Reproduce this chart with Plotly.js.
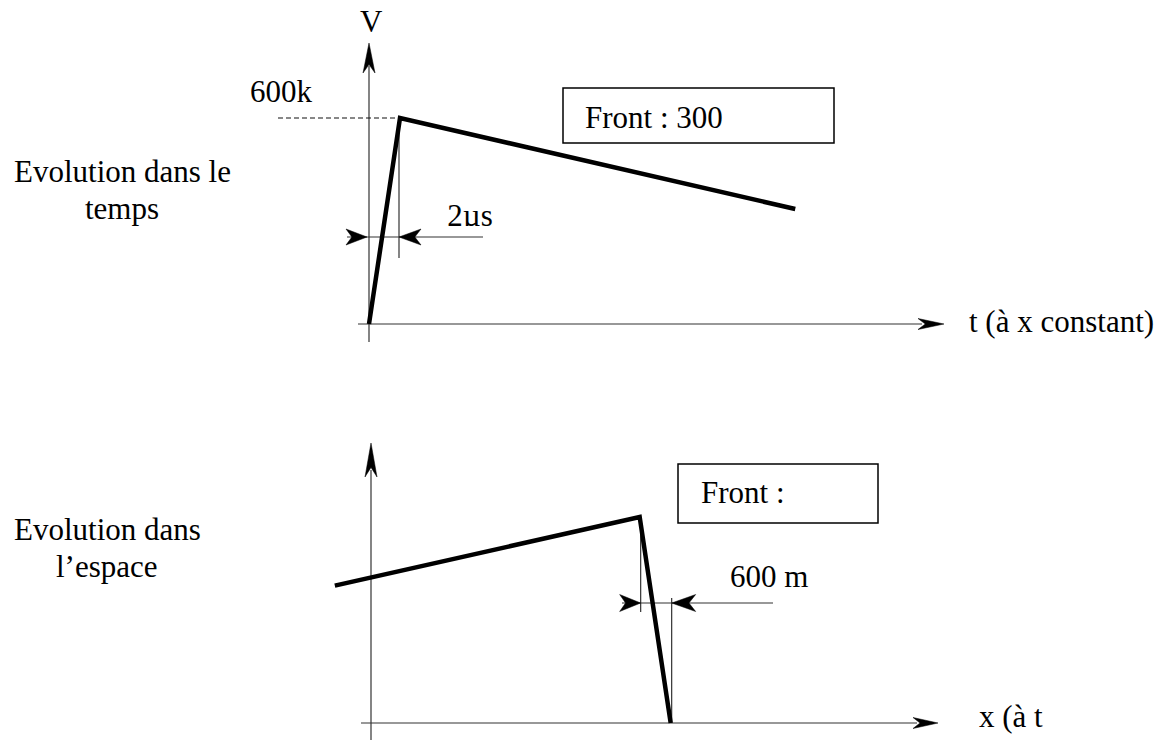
<!DOCTYPE html>
<html>
<head>
<meta charset="utf-8">
<script src="https://cdn.plot.ly/plotly-3.0.1.min.js"></script>
<style>html,body{margin:0;padding:0;background:#fff;}#chart{width:1162px;height:740px;}</style>
</head>
<body>
<div id="chart"></div>
<script>
// ---- data ----
const timeUs = [0, 2, 27.5];          // top panel: time (µs)
const voltTime = [0, 600, 335];       // top panel: voltage (kV)
const spaceM = [-700, 5200, 5800];    // bottom panel: position (m)
const voltSpace = [400, 600, 0];      // bottom panel: voltage (kV)
const peakKV = 600;
const riseUs = 2;
const frontM = 600;
const rowLabelsTop = ["Evolution dans le", "temps"];
const rowLabelsBottom = ["Evolution dans", "l\u2019espace"];
const axisLabels = {v: "V", t: "t (\u00e0 x constant)", x: "x (\u00e0 t"};
const boxLabels = ["Front : 300", "Front :"];
const dimLabels = {peak: "600k", rise: "2\u00b5s", front: "600 m"};

// ---- layout geometry (pixels) ----
const W = 1162, H = 740;
const O1 = {x: 369, y: 324}, O2 = {x: 371, y: 723};
const tPx = 15.5, vPx = 206 / 600, mPx = 31 / 600;
const P1 = (t, v) => [O1.x + t * tPx, O1.y - v * vPx];
const P2 = (m, v) => [O2.x + m * mPx, O2.y - v * vPx];

const FONT = "'Liberation Serif', 'Times New Roman', serif";
const FS = 31;
const AX = '#333333';

const shapes = [];
function line(x0, y0, x1, y1, opts = {}) {
  shapes.push({type: 'line', xref: 'x3', yref: 'y3', x0, y0, x1, y1,
    line: {color: opts.color || AX, width: opts.width || 1.2, dash: opts.dash || 'solid'},
    layer: opts.layer || 'below'});
}
function arrow(tx, ty, dx, dy, len, half) {
  const nx = -dy, ny = dx;
  const bx = tx - dx * len, by = ty - dy * len;
  const mx = tx - dx * len * 0.72, my = ty - dy * len * 0.72;
  const p = `M${tx},${ty} L${bx + nx * half},${by + ny * half} L${mx},${my} L${bx - nx * half},${by - ny * half} Z`;
  shapes.push({type: 'path', xref: 'x3', yref: 'y3', path: p,
    fillcolor: '#000', line: {color: '#000', width: 0.5}, layer: 'below'});
}
function rect(x0, y0, x1, y1, opts = {}) {
  shapes.push({type: 'rect', xref: 'x3', yref: 'y3', x0, y0, x1, y1,
    line: {color: opts.line || '#000', width: opts.width === undefined ? 1.5 : opts.width},
    fillcolor: opts.fill || 'rgba(0,0,0,0)', layer: opts.layer || 'below'});
}

// ---- top panel decorations ----
line(O1.x, O1.y + 18, O1.x, 66);
arrow(O1.x, 43, 0, -1, 30, 6);
line(O1.x - 11, O1.y, 922, O1.y);
arrow(944, O1.y, 1, 0, 26, 5.5);
const pk1 = P1(riseUs, peakKV);
line(278, pk1[1], pk1[0], pk1[1], {dash: '5px,3px', width: 1.1, color: '#111'});
line(pk1[0] - 1, pk1[1] + 4, pk1[0] - 1, 258);
const dimY1 = 237;
line(347, dimY1, 483, dimY1);
arrow(O1.x - 2, dimY1, 1, 0, 21, 8);
arrow(pk1[0] - 1, dimY1, -1, 0, 22, 8);
rect(563, 88, 834, 143);

// ---- bottom panel decorations ----
line(O2.x, H + 2, O2.x, 470);
arrow(O2.x, 443, 0, -1, 34, 6);
line(361, O2.y, 917, O2.y);
arrow(938, O2.y, 1, 0, 25, 5.5);
const corner2 = P2(spaceM[1], voltSpace[1]);
const foot2 = P2(spaceM[2], voltSpace[2]);
const extL = P2(spaceM[2] - frontM, 0)[0] + 1;
line(extL, corner2[1] + 3, extL, 612);
line(foot2[0] + 1, 598, foot2[0] + 1, O2.y);
const dimY2 = 603;
line(622, dimY2, 773, dimY2);
arrow(extL, dimY2, 1, 0, 21, 8.5);
arrow(foot2[0] + 1, dimY2, -1, 0, 24, 8.5);
rect(678, 464, 878, 523);

// clip masks for the two cut labels (drawn above the text traces)
rect(240, 103.5, 320, 114, {line: 'rgba(0,0,0,0)', width: 0, fill: '#fff', layer: 'above'});
rect(440, 226, 500, 234, {line: 'rgba(0,0,0,0)', width: 0, fill: '#fff', layer: 'above'});

// ---- annotations ----
const ann = [];
function txt(text, x, baseline, anchor = 'left', size = FS) {
  ann.push({text, x, y: baseline - size * 0.33, xref: 'x3', yref: 'y3',
    xanchor: anchor, yanchor: 'middle', showarrow: false,
    font: {family: FONT, size, color: '#000'}});
}
txt(rowLabelsTop[0], 122, 182, 'center');
txt(rowLabelsTop[1], 122, 219, 'center');
txt(rowLabelsBottom[0], 107, 540, 'center');
txt(rowLabelsBottom[1], 107, 577, 'center');
txt(axisLabels.v, 371, 32, 'center');
txt(axisLabels.t, 967, 332);
txt(axisLabels.x, 977, 727);
txt(boxLabels[0], 583, 128);
txt(boxLabels[1], 699, 503);
txt(dimLabels.front, 728, 587);

// ---- traces ----
const traces = [
  {x: timeUs, y: voltTime, xaxis: 'x', yaxis: 'y', mode: 'lines',
   line: {color: '#000', width: 4.5}, hoverinfo: 'skip', showlegend: false},
  {x: spaceM, y: voltSpace, xaxis: 'x2', yaxis: 'y2', mode: 'lines',
   line: {color: '#000', width: 4.5}, hoverinfo: 'skip', showlegend: false},
  {x: [281, 470], y: [104 - FS * 0.33, 228 - FS * 0.33], xaxis: 'x3', yaxis: 'y3',
   mode: 'text', text: [dimLabels.peak, dimLabels.rise], textposition: 'middle center',
   textfont: {family: FONT, size: FS, color: '#000'}, hoverinfo: 'skip', showlegend: false,
   cliponaxis: false}
];

const hid = {visible: false, fixedrange: true, showgrid: false, zeroline: false};
const layout = {
  width: W, height: H, margin: {l: 0, r: 0, t: 0, b: 0},
  paper_bgcolor: '#fff', plot_bgcolor: 'rgba(0,0,0,0)', showlegend: false,
  xaxis: Object.assign({}, hid, {domain: [0, 1], range: [-O1.x / tPx, (W - O1.x) / tPx]}),
  yaxis: Object.assign({}, hid, {domain: [0, 1], range: [-(H - O1.y) / vPx, O1.y / vPx]}),
  xaxis2: Object.assign({}, hid, {overlaying: 'x', range: [-O2.x / mPx, (W - O2.x) / mPx]}),
  yaxis2: Object.assign({}, hid, {overlaying: 'y', range: [-(H - O2.y) / vPx, O2.y / vPx]}),
  xaxis3: Object.assign({}, hid, {overlaying: 'x', range: [0, W]}),
  yaxis3: Object.assign({}, hid, {overlaying: 'y', range: [H, 0]}),
  shapes, annotations: ann
};
Plotly.newPlot('chart', traces, layout, {staticPlot: true, displayModeBar: false});
</script>
</body>
</html>
